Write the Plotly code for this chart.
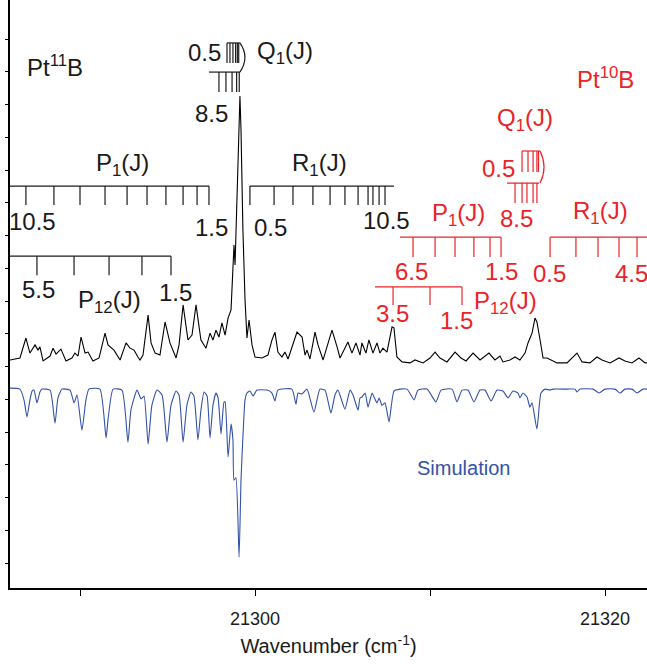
"""
Espectro LIF de PtB (Pt11B / Pt10B) com simulação invertida.
"""

import plotly.graph_objects as go

# espectro experimental (cm-1, intensidade arb.)
exp_wn = [
    21286.00, 21286.57, 21286.91, 21287.14, 21287.43, 21287.60, 21287.71, 21287.89, 21288.29, 21288.46,
    21288.63, 21288.91, 21289.20, 21289.54, 21289.71, 21289.89, 21290.06, 21290.29, 21290.46, 21290.74,
    21291.09, 21291.43, 21291.60, 21291.94, 21292.29, 21292.63, 21292.86, 21293.09, 21293.31, 21293.43,
    21293.60, 21293.89, 21294.06, 21294.29, 21294.57, 21294.86, 21295.14, 21295.49, 21295.66, 21295.89,
    21296.17, 21296.40, 21296.63, 21296.91, 21297.20, 21297.43, 21297.60, 21297.77, 21297.94, 21298.11,
    21298.29, 21298.46, 21298.63, 21298.74, 21298.80, 21298.86, 21298.97, 21299.09, 21299.14, 21299.20,
    21299.31, 21299.43, 21299.54, 21299.66, 21299.83, 21300.00, 21300.40, 21300.74, 21300.97, 21301.14,
    21301.31, 21301.54, 21301.71, 21301.89, 21302.17, 21302.40, 21302.69, 21302.86, 21302.97, 21303.14,
    21303.43, 21303.60, 21303.89, 21304.17, 21304.40, 21304.69, 21304.86, 21305.31, 21305.54, 21305.77,
    21306.00, 21306.11, 21306.34, 21306.51, 21306.74, 21306.97, 21307.14, 21307.31, 21307.54, 21307.83,
    21307.94, 21308.11, 21308.40, 21308.86, 21309.14, 21309.60, 21310.00, 21310.29, 21310.57, 21310.97,
    21311.43, 21311.77, 21312.06, 21312.46, 21312.86, 21313.37, 21313.71, 21314.00, 21314.17, 21314.57,
    21314.86, 21315.14, 21315.43, 21315.60, 21315.83, 21316.00, 21316.11, 21316.29, 21316.46, 21316.69,
    21317.26, 21317.83, 21318.40, 21318.69, 21319.14, 21319.54, 21319.83, 21320.29, 21320.80, 21321.14,
    21321.54, 21321.94, 21322.29, 21322.40,
]
exp_int = [
    6.20, 6.26, 6.87, 6.41, 6.66, 6.50, 6.60, 6.17, 6.32, 6.56,
    6.38, 6.53, 6.17, 6.26, 6.41, 6.32, 6.90, 6.41, 6.44, 6.17,
    6.26, 7.02, 6.66, 6.50, 6.20, 6.72, 6.56, 6.50, 6.29, 6.20,
    6.35, 7.57, 6.72, 6.41, 6.35, 7.36, 6.72, 6.26, 6.66, 7.88,
    6.81, 6.96, 7.88, 6.81, 6.56, 7.02, 6.81, 7.11, 6.90, 7.33,
    6.96, 7.48, 7.73, 9.19, 9.71, 9.10, 11.08, 13.22, 14.26, 13.22,
    10.17, 8.03, 6.87, 7.42, 6.66, 6.29, 6.26, 6.35, 6.81, 7.05,
    6.44, 6.29, 6.44, 6.23, 6.66, 7.05, 6.90, 6.35, 6.50, 6.23,
    7.05, 6.66, 6.20, 6.66, 7.11, 6.60, 6.26, 6.75, 6.41, 6.72,
    6.35, 6.72, 6.41, 6.81, 6.41, 6.72, 6.41, 6.56, 6.44, 7.21,
    7.18, 6.29, 6.14, 6.11, 6.20, 6.11, 6.26, 6.44, 6.26, 6.14,
    6.44, 6.26, 6.17, 6.41, 6.20, 6.41, 6.20, 6.32, 6.14, 6.20,
    6.29, 6.20, 6.41, 6.72, 7.02, 7.48, 7.36, 6.81, 6.26, 6.26,
    6.11, 6.11, 6.41, 6.14, 6.11, 6.29, 6.20, 6.11, 6.26, 6.17,
    6.11, 6.26, 6.11, 6.11,
]

# espectro simulado (invertido)
sim_wn = [
    21286.00, 21286.57, 21286.80, 21286.97, 21287.14, 21287.26, 21287.37, 21287.54, 21287.71, 21287.83,
    21288.29, 21288.57, 21288.74, 21288.97, 21289.43, 21289.66, 21289.83, 21290.11, 21290.34, 21290.51,
    21291.14, 21291.49, 21291.60, 21291.89, 21292.40, 21292.74, 21292.91, 21293.26, 21293.49, 21293.66,
    21293.89, 21294.11, 21294.40, 21294.69, 21294.97, 21295.20, 21295.49, 21295.66, 21295.89, 21296.11,
    21296.34, 21296.51, 21296.74, 21296.91, 21297.09, 21297.26, 21297.43, 21297.60, 21297.77, 21297.89,
    21298.06, 21298.23, 21298.29, 21298.46, 21298.63, 21298.74, 21298.80, 21298.91, 21299.09, 21299.20,
    21299.31, 21299.43, 21299.54, 21299.71, 21299.89, 21300.11, 21300.69, 21300.97, 21301.14, 21301.31,
    21302.11, 21302.34, 21302.46, 21302.69, 21302.97, 21303.37, 21303.71, 21304.00, 21304.34, 21304.57,
    21304.74, 21305.14, 21305.43, 21305.60, 21305.89, 21306.00, 21306.11, 21306.29, 21306.46, 21306.69,
    21306.80, 21306.97, 21307.09, 21307.26, 21307.43, 21307.66, 21307.94, 21308.29, 21308.69, 21309.09,
    21309.31, 21309.83, 21310.34, 21310.63, 21311.26, 21311.54, 21311.83, 21312.17, 21312.51, 21312.86,
    21313.14, 21313.49, 21313.83, 21314.17, 21314.46, 21314.74, 21315.03, 21315.14, 21315.31, 21315.54,
    21315.71, 21315.83, 21316.11, 21316.34, 21316.57, 21316.86, 21317.03, 21317.83, 21318.29, 21318.40,
    21318.57, 21319.31, 21319.66, 21320.00, 21320.57, 21320.86, 21321.14, 21321.54, 21321.83, 21322.17,
    21322.40,
]
sim_int = [
    5.34, 5.31, 4.98, 4.46, 4.98, 5.25, 5.28, 4.89, 5.22, 5.31,
    5.28, 4.27, 5.04, 5.31, 5.28, 4.89, 5.13, 4.06, 4.98, 5.31,
    5.31, 3.82, 4.37, 5.31, 5.28, 3.69, 4.67, 5.28, 5.01, 5.10,
    3.63, 4.82, 5.28, 5.13, 3.69, 4.82, 5.25, 5.13, 3.69, 4.82,
    5.22, 5.10, 3.76, 4.67, 5.22, 5.10, 3.82, 4.82, 5.19, 5.04,
    3.94, 4.92, 4.92, 3.24, 4.24, 3.76, 2.53, 2.60, 0.18, 2.53,
    3.85, 4.98, 5.19, 5.25, 5.10, 5.28, 5.28, 5.19, 4.95, 5.28,
    5.31, 4.85, 5.19, 5.16, 5.31, 4.61, 5.31, 5.28, 4.58, 5.13,
    5.28, 4.70, 5.28, 5.13, 4.67, 5.04, 5.07, 5.19, 4.76, 5.19,
    5.07, 4.89, 5.04, 4.82, 4.89, 4.31, 5.25, 5.31, 5.31, 4.98,
    5.28, 5.31, 4.92, 5.28, 5.31, 4.92, 5.28, 5.28, 4.92, 5.28,
    5.28, 4.95, 5.28, 5.25, 5.04, 5.25, 5.19, 5.04, 5.19, 5.07,
    4.76, 4.89, 4.09, 5.19, 5.31, 5.28, 5.31, 5.31, 5.31, 5.22,
    5.31, 5.31, 5.19, 5.31, 5.31, 5.19, 5.31, 5.31, 5.19, 5.31,
    5.31,
]

# posições das linhas rotacionais (cm-1)
pt11_p1 = [21286.91, 21288.51, 21290.00, 21291.43, 21292.69, 21293.83, 21294.91, 21295.89, 21296.69, 21297.37]
pt11_r1 = [21299.71, 21301.09, 21302.17, 21303.31, 21304.29, 21305.14, 21305.89, 21306.46, 21306.74, 21307.09, 21307.43]
pt11_p12 = [21287.54, 21289.66, 21291.66, 21293.54, 21295.20]
pt11_q1_alto = [21298.40, 21298.57, 21298.74, 21298.89, 21298.99, 21299.07]
pt11_q1_baixo = [21297.94, 21298.34, 21298.69, 21298.95, 21299.10]

pt10_p1 = [21309.03, 21310.29, 21311.43, 21312.51, 21313.43, 21314.06]
pt10_r1 = [21316.86, 21318.34, 21319.60, 21320.80, 21321.83]
pt10_p12 = [21307.89, 21310.00, 21311.83]
pt10_q1_alto = [21315.26, 21315.60, 21315.89, 21316.11, 21316.20]
pt10_q1_baixo = [21314.86, 21315.26, 21315.54, 21315.89, 21316.11]

X_MIN, X_MAX = 21286.0, 21322.4
PRETO = "#1a1a1a"
VERMELHO = "#ea2329"
AZUL = "#3352a8"
FONTE = "Liberation Sans, Arial, sans-serif"

fig = go.Figure()

fig.add_trace(go.Scatter(x=exp_wn, y=exp_int, mode="lines",
                         line=dict(color="black", width=1.1), showlegend=False))
fig.add_trace(go.Scatter(x=sim_wn, y=sim_int, mode="lines",
                         line=dict(color=AZUL, width=1.1, shape="spline", smoothing=0.5),
                         showlegend=False))


def pente(pos, nivel, queda, cor, x_ini=None, x_fim=None):
    """Desenha um pente de atribuição (linha horizontal + traços)."""
    xs = [min(pos) if x_ini is None else x_ini, max(pos) if x_fim is None else x_fim, None]
    ys = [nivel, nivel, None]
    for p in pos:
        xs += [p, p, None]
        ys += [nivel, nivel - queda, None]
    fig.add_trace(go.Scatter(x=xs, y=ys, mode="lines", line=dict(color=cor, width=1.2),
                             hoverinfo="skip", showlegend=False))


# Pt11B
pente(pt11_p1, 11.51, 0.58, PRETO, x_ini=X_MIN)
pente(pt11_r1, 11.51, 0.58, PRETO, x_fim=21307.94)
pente(pt11_p12, 9.37, 0.58, PRETO, x_ini=X_MIN)
pente(pt11_q1_alto, 15.88, 0.61, PRETO, x_fim=21299.14)
pente(pt11_q1_baixo, 14.99, 0.61, PRETO, x_ini=21297.37, x_fim=21299.14)

# Pt10B
pente(pt10_p1, 9.95, 0.61, VERMELHO, x_ini=21308.29)
pente(pt10_r1, 9.95, 0.61, VERMELHO, x_fim=X_MAX + 1)
pente(pt10_p12, 8.43, 0.55, VERMELHO, x_ini=21306.86)
pente(pt10_q1_alto, 12.58, 0.64, VERMELHO, x_fim=21316.29)
pente(pt10_q1_baixo, 11.60, 0.61, VERMELHO, x_ini=21314.40, x_fim=21316.23)

shapes = [
    dict(type="path", xref="x", yref="y", line=dict(color=PRETO, width=1.2),
         path="M 21299.14,15.88 Q 21299.71,15.44 21299.14,14.99"),
    dict(type="path", xref="x", yref="y", line=dict(color=VERMELHO, width=1.2),
         path="M 21316.29,12.58 Q 21316.74,12.09 21316.29,11.60"),
]

rotulos = [
    ("Pt<sup>11</sup>B", 21288.57, 15.18, PRETO),
    ("0.5", 21297.14, 15.60, PRETO),
    ("Q<sub>1</sub>(J)", 21301.71, 15.60, PRETO),
    ("8.5", 21297.49, 13.74, PRETO),
    ("P<sub>1</sub>(J)", 21292.40, 12.18, PRETO),
    ("R<sub>1</sub>(J)", 21303.71, 12.18, PRETO),
    ("10.5", 21287.31, 10.44, PRETO),
    ("1.5", 21297.49, 10.23, PRETO),
    ("0.5", 21300.86, 10.23, PRETO),
    ("10.5", 21307.54, 10.47, PRETO),
    ("5.5", 21287.60, 8.34, PRETO),
    ("P<sub>12</sub>(J)", 21291.66, 7.97, PRETO),
    ("1.5", 21295.43, 8.27, PRETO),
    ("Pt<sup>10</sup>B", 21320.00, 14.81, VERMELHO),
    ("Q<sub>1</sub>(J)", 21315.43, 13.53, VERMELHO),
    ("0.5", 21313.89, 12.06, VERMELHO),
    ("8.5", 21314.97, 10.53, VERMELHO),
    ("P<sub>1</sub>(J)", 21311.60, 10.63, VERMELHO),
    ("R<sub>1</sub>(J)", 21319.77, 10.69, VERMELHO),
    ("6.5", 21308.97, 8.89, VERMELHO),
    ("1.5", 21314.11, 8.89, VERMELHO),
    ("0.5", 21316.80, 8.85, VERMELHO),
    ("4.5", 21321.49, 8.85, VERMELHO),
    ("3.5", 21307.83, 7.63, VERMELHO),
    ("1.5", 21311.49, 7.42, VERMELHO),
    ("P<sub>12</sub>(J)", 21314.29, 7.94, VERMELHO),
]
anotacoes = [dict(text=t, x=x, y=y, xref="x", yref="y", showarrow=False,
                  font=dict(family=FONTE, size=24, color=c)) for t, x, y, c in rotulos]
anotacoes.append(dict(text="Simulation", x=21311.89, y=2.90, xref="x", yref="y",
                      showarrow=False, font=dict(family=FONTE, size=20, color=AZUL)))

fig.update_layout(
    width=647, height=664,
    margin=dict(l=10, r=0, t=0, b=76, autoexpand=False),
    plot_bgcolor="white", paper_bgcolor="white",
    font=dict(family=FONTE, color=PRETO),
    shapes=shapes, annotations=anotacoes,
    showlegend=False,
)
fig.update_xaxes(
    range=[X_MIN, X_MAX], showgrid=False, zeroline=False, automargin=False,
    showline=True, linecolor="black", linewidth=1.5,
    ticks="outside", ticklen=6, tickwidth=1.2, tickcolor="black",
    tickvals=[21290, 21300, 21310, 21320], ticktext=["", "21300", "", "21320"],
    tickfont=dict(size=18, color=PRETO), ticklabelstandoff=8,
    title=dict(text="Wavenumber (cm<sup>-1</sup>)", font=dict(size=20, color=PRETO), standoff=11),
)
fig.update_yaxes(
    range=[-0.763, 17.191], showgrid=False, zeroline=False, automargin=False,
    showline=True, linecolor="black", linewidth=1.5,
    ticks="outside", ticklen=3, tickwidth=1.2, tickcolor="black",
    tickvals=list(range(0, 17)), showticklabels=False,
)

# a página tem margem padrão de 8px no body; zera para alinhar ao quadro
fig.write_html("out.html", config={"displayModeBar": False},
               post_script="document.body.style.margin='0px';")
